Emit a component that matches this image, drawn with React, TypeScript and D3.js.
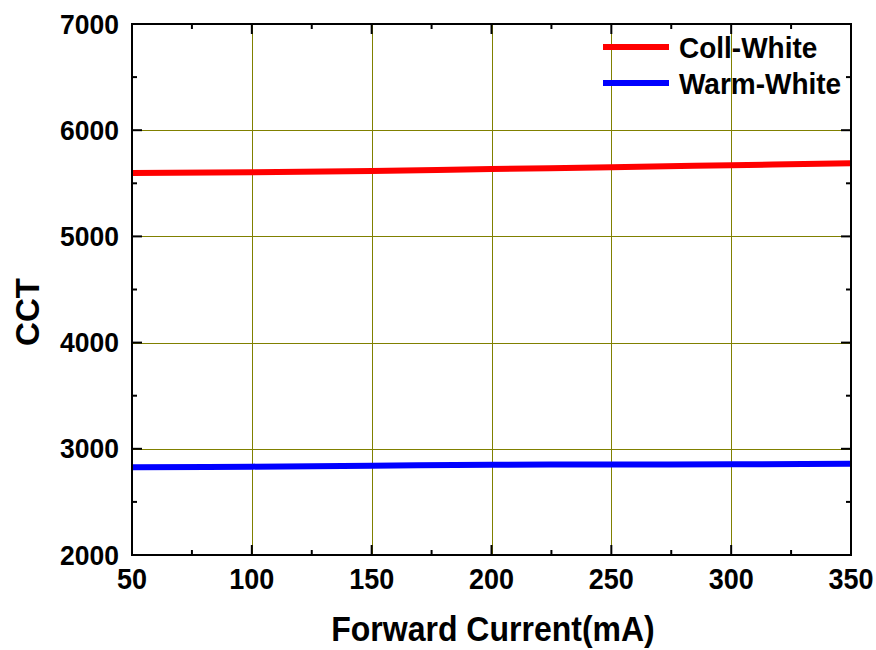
import React from "react";
import * as d3 from "d3";

const currents = [50, 100, 150, 200, 250, 300, 350];
const coolWhite = [5597, 5603, 5616, 5635, 5651, 5670, 5688];
const warmWhite = [2826, 2832, 2841, 2850, 2852, 2854, 2860];
const xTicks = [50, 100, 150, 200, 250, 300, 350];
const xMinor = [75, 125, 175, 225, 275, 325];
const yTicks = [2000, 3000, 4000, 5000, 6000, 7000];
const yMinor = [2500, 3500, 4500, 5500, 6500];
const seriesNames = ["Coll-White", "Warm-White"];
const seriesColors = ["#ff0000", "#0000ff"];

const W = 876;
const H = 650;
const L = 132;
const R = 851;
const T = 24;
const B = 555;
const FONT = "'Liberation Sans', Arial, Helvetica, sans-serif";

export default function App() {
  const x = d3.scaleLinear().domain([50, 350]).range([L, R]);
  const y = d3.scaleLinear().domain([2000, 7000]).range([B, T]);
  const series = [coolWhite, warmWhite];
  const line = d3
    .line<number>()
    .x((_, i) => x(currents[i]))
    .y((d) => y(d))
    .curve(d3.curveMonotoneX);

  const grid = "#808000";

  return (
    <svg
      width={W}
      height={H}
      style={{ position: "absolute", left: 0, top: 0, background: "#fff" }}
      fontFamily={FONT}
      fontWeight="bold"
    >
      <rect x={0} y={0} width={W} height={H} fill="#fff" />
      {xTicks.slice(1, -1).map((t) => (
        <line key={"gx" + t} x1={Math.round(x(t)) + 0.5} x2={Math.round(x(t)) + 0.5} y1={T} y2={B} stroke={grid} strokeWidth={1} />
      ))}
      {yTicks.slice(1, -1).map((t) => (
        <line key={"gy" + t} x1={L} x2={R} y1={Math.round(y(t)) + 0.5} y2={Math.round(y(t)) + 0.5} stroke={grid} strokeWidth={1} />
      ))}
      {series.map((s, i) => (
        <path key={"s" + i} d={line(s) || ""} fill="none" stroke={seriesColors[i]} strokeWidth={6} />
      ))}
      <rect x={L} y={T} width={R - L} height={B - T} fill="none" stroke="#000" strokeWidth={2} />
      {xTicks.map((t) => (
        <g key={"tx" + t}>
          <line x1={x(t)} x2={x(t)} y1={B} y2={B - 10} stroke="#000" strokeWidth={2} />
          <line x1={x(t)} x2={x(t)} y1={T} y2={T + 10} stroke="#000" strokeWidth={2} />
          <text transform={`translate(${x(t)},589) scale(1,1.08)`} textAnchor="middle" fontSize={27} fill="#000">
            {t}
          </text>
        </g>
      ))}
      {xMinor.map((t) => (
        <g key={"mx" + t}>
          <line x1={x(t)} x2={x(t)} y1={B} y2={B - 5} stroke="#000" strokeWidth={2} />
          <line x1={x(t)} x2={x(t)} y1={T} y2={T + 5} stroke="#000" strokeWidth={2} />
        </g>
      ))}
      {yTicks.map((t) => (
        <g key={"ty" + t}>
          <line x1={L} x2={L + 10} y1={y(t)} y2={y(t)} stroke="#000" strokeWidth={2} />
          <line x1={R} x2={R - 10} y1={y(t)} y2={y(t)} stroke="#000" strokeWidth={2} />
          <text transform={`translate(119,${y(t) + 9.5}) scale(1,1.05)`} textAnchor="end" fontSize={26.5} fill="#000">
            {t}
          </text>
        </g>
      ))}
      {yMinor.map((t) => (
        <g key={"my" + t}>
          <line x1={L} x2={L + 5} y1={y(t)} y2={y(t)} stroke="#000" strokeWidth={2} />
          <line x1={R} x2={R - 5} y1={y(t)} y2={y(t)} stroke="#000" strokeWidth={2} />
        </g>
      ))}
      <text transform="translate(493,641) scale(1,1.08)" textAnchor="middle" fontSize={32} fill="#000">
        Forward Current(mA)
      </text>
      <text transform="translate(39,312) rotate(-90)" textAnchor="middle" fontSize={33} fill="#000">
        CCT
      </text>
      {seriesNames.map((n, i) => (
        <g key={"lg" + i}>
          <line x1={603} x2={669} y1={47 + i * 36} y2={47 + i * 36} stroke={seriesColors[i]} strokeWidth={6} />
          <text transform={`translate(679,${58 + i * 35.5}) scale(1,1.05)`} fontSize={28} fill="#000">
            {n}
          </text>
        </g>
      ))}
    </svg>
  );
}
